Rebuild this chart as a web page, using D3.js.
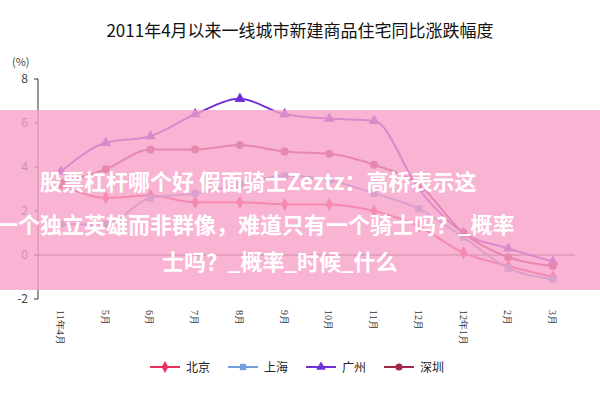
<!DOCTYPE html>
<html><head><meta charset="utf-8">
<script src="https://cdn.jsdelivr.net/npm/d3@7"></script>
<style>body{margin:0;background:#fff}svg{font-family:"Noto Sans CJK SC",sans-serif}</style>
</head><body><svg width="600" height="400"></svg>
<script>
const months = ["11年4月","5月","6月","7月","8月","9月","10月","11月","12月","12年1月","2月","3月"];
const beijing   = [3.2,2.6,2.7,2.4,2.4,2.3,2.3,2.0,1.3,0.1,-0.5,-1.0];
const shanghai  = [1.4,1.4,2.6,2.8,3.2,3.6,3.4,2.8,2.1,0.8,-0.6,-1.1];
const guangzhou = [3.8,5.1,5.4,6.4,7.1,6.4,6.2,6.1,3.0,1.0,0.3,-0.3];
const shenzhen  = [3.3,3.9,4.8,4.8,5.0,4.7,4.6,4.1,3.2,1.0,-0.1,-0.5];
const yTicks = [-2,0,2,4,6,8];

const svg = d3.select("svg");
const x = d3.scalePoint().domain(months).range([61,553]);
const y = d3.scaleLinear().domain([-2,8]).range([299,79]);

svg.append("text").text("2011年4月以来一线城市新建商品住宅同比涨跌幅度")
  .attr("x",300).attr("y",37).attr("text-anchor","middle").attr("font-size",17).attr("fill","#111");
svg.append("text").text("(%)").attr("x",12).attr("y",66).attr("font-size",11).attr("fill","#444");

// axes
svg.append("line").attr("x1",38).attr("x2",38).attr("y1",y(8)).attr("y2",y(-2)).attr("stroke","#333");
yTicks.forEach(t=>{
  svg.append("line").attr("x1",34).attr("x2",38).attr("y1",y(t)).attr("y2",y(t)).attr("stroke","#333");
  svg.append("text").text(t).attr("x",28).attr("y",y(t)+4).attr("text-anchor","end").attr("font-size",12).attr("fill","#444");
});
svg.append("line").attr("x1",38).attr("x2",575).attr("y1",y(0)).attr("y2",y(0)).attr("stroke","#333");
months.forEach(m=>{
  svg.append("text").text(m).attr("transform",`translate(${x(m)-4},310) rotate(90)`)
    .attr("font-size",10).attr("font-family","Liberation Serif, serif").attr("fill","#333");
});

const series = [
  {name:"北京",vals:beijing,color:"#e8305a",shape:d3.symbolDiamond},
  {name:"上海",vals:shanghai,color:"#6fa0dc",shape:d3.symbolSquare},
  {name:"广州",vals:guangzhou,color:"#7030d8",shape:d3.symbolTriangle},
  {name:"深圳",vals:shenzhen,color:"#a02848",shape:d3.symbolCircle}
];
const line = d3.line().x((d,i)=>x(months[i])).y(d=>y(d)).curve(d3.curveMonotoneX);
series.forEach(s=>{
  svg.append("path").attr("d",line(s.vals)).attr("fill","none").attr("stroke",s.color).attr("stroke-width",2);
  s.vals.forEach((v,i)=>{
    svg.append("path").attr("d",d3.symbol(s.shape,50)()).attr("fill",s.color)
      .attr("transform",`translate(${x(months[i])},${y(v)})`);
  });
});

// legend
series.forEach((s,i)=>{
  const lx = 150+i*78;
  svg.append("line").attr("x1",lx).attr("x2",lx+30).attr("y1",367).attr("y2",367).attr("stroke",s.color).attr("stroke-width",2);
  svg.append("path").attr("d",d3.symbol(s.shape,40)()).attr("fill",s.color).attr("transform",`translate(${lx+15},367)`);
  svg.append("text").text(s.name).attr("x",lx+36).attr("y",372).attr("font-size",12).attr("fill","#222");
});

// overlay banner
svg.append("rect").attr("x",0).attr("y",110).attr("width",600).attr("height",180).attr("fill","#f8a0c8").attr("opacity",0.8);
const lines = [["股票杠杆哪个好 假面骑士Zeztz：高桥表示这",40,190],["一个独立英雄而非群像，难道只有一个骑士吗？_概率",-4,233],["士吗？_概率_时候_什么",162,270]];
lines.forEach(l=>svg.append("text").text(l[0]).attr("x",l[1]).attr("y",l[2])
  .attr("font-size",22).attr("font-weight","bold").attr("fill","#fff"));
</script></body></html>
